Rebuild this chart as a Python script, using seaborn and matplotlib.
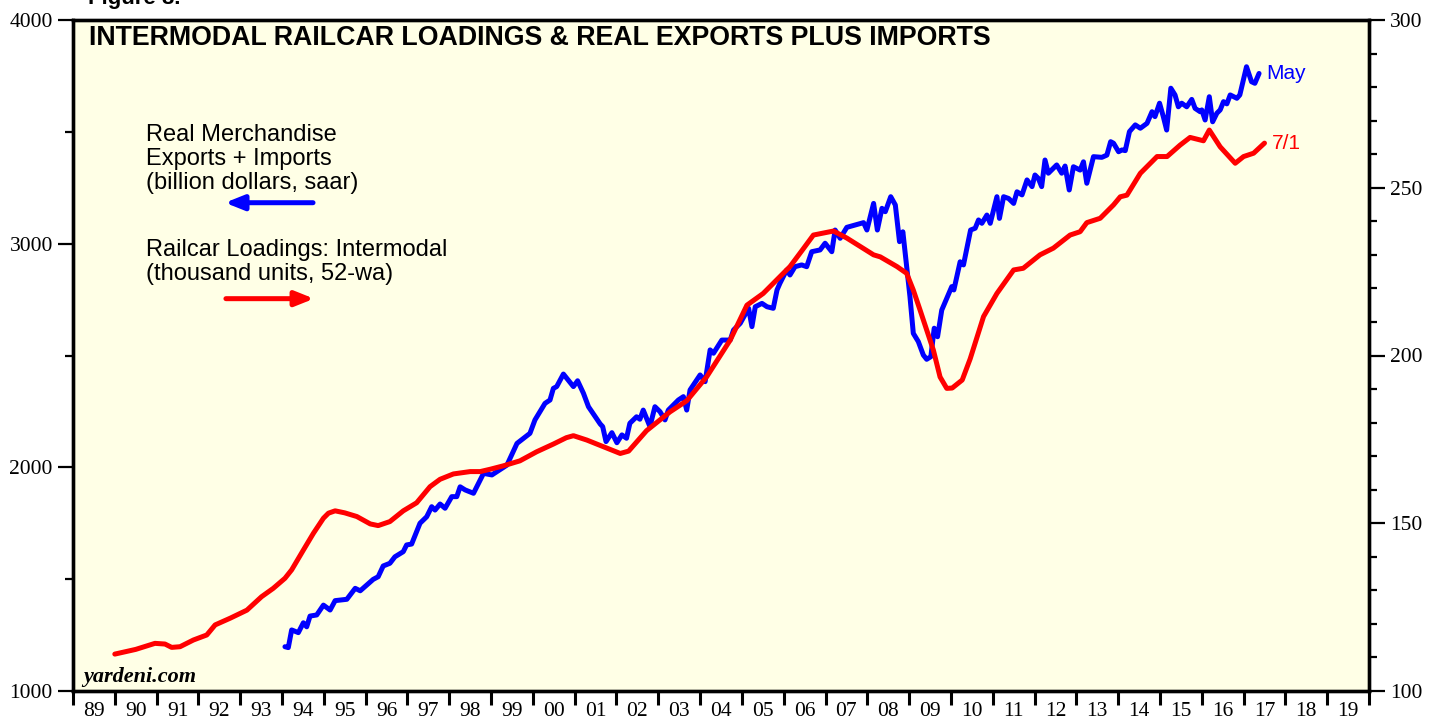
import numpy as np
import pandas as pd
import matplotlib
matplotlib.use('Agg')
import matplotlib.pyplot as plt
from matplotlib.ticker import MultipleLocator, FixedLocator, FixedFormatter
import seaborn as sns

# Real merchandise exports + imports (billion dollars, saar), left axis
blue_year = [1994.07, 1994.15, 1994.23, 1994.39, 1994.51, 1994.59, 1994.67, 1994.83, 1994.99, 1995.15,
             1995.27, 1995.55, 1995.75, 1995.87, 1996.18, 1996.30, 1996.42, 1996.58, 1996.70, 1996.90,
             1996.98, 1997.10, 1997.30, 1997.46, 1997.58, 1997.66, 1997.78, 1997.90, 1998.06, 1998.18,
             1998.26, 1998.38, 1998.58, 1998.82, 1999.02, 1999.38, 1999.62, 1999.93, 2000.05, 2000.29,
             2000.41, 2000.49, 2000.57, 2000.73, 2000.97, 2001.07, 2001.21, 2001.33, 2001.61, 2001.67,
             2001.75, 2001.89, 2002.01, 2002.13, 2002.24, 2002.32, 2002.48, 2002.56, 2002.64, 2002.80,
             2002.92, 2003.04, 2003.16, 2003.24, 2003.48, 2003.60, 2003.68, 2003.76, 2004.00, 2004.12,
             2004.24, 2004.32, 2004.52, 2004.72, 2004.80, 2004.96, 2005.16, 2005.24, 2005.32, 2005.48,
             2005.60, 2005.75, 2005.84, 2005.91, 2006.07, 2006.15, 2006.27, 2006.43, 2006.55, 2006.67,
             2006.87, 2006.99, 2007.15, 2007.23, 2007.35, 2007.51, 2007.91, 2007.99, 2008.15, 2008.24,
             2008.35, 2008.43, 2008.56, 2008.67, 2008.77, 2008.85, 2009.02, 2009.10, 2009.22, 2009.34,
             2009.42, 2009.52, 2009.60, 2009.68, 2009.78, 2009.90, 2010.02, 2010.07, 2010.22, 2010.30,
             2010.47, 2010.58, 2010.66, 2010.74, 2010.86, 2010.94, 2011.10, 2011.16, 2011.26, 2011.38,
             2011.50, 2011.58, 2011.70, 2011.82, 2011.94, 2012.01, 2012.09, 2012.17, 2012.25, 2012.33,
             2012.53, 2012.65, 2012.73, 2012.83, 2012.93, 2013.09, 2013.17, 2013.25, 2013.41, 2013.61,
             2013.73, 2013.82, 2013.89, 2014.01, 2014.09, 2014.17, 2014.27, 2014.41, 2014.53, 2014.69,
             2014.81, 2014.88, 2014.99, 2015.08, 2015.16, 2015.26, 2015.36, 2015.44, 2015.52, 2015.64,
             2015.76, 2015.84, 2015.96, 2016.00, 2016.08, 2016.18, 2016.26, 2016.36, 2016.44, 2016.52,
             2016.60, 2016.68, 2016.84, 2016.91, 2017.07, 2017.19, 2017.27, 2017.37]
blue_value = [1198, 1194, 1273, 1261, 1305, 1287, 1335, 1340, 1384, 1362,
              1404, 1410, 1459, 1448, 1499, 1511, 1559, 1571, 1600, 1623,
              1653, 1657, 1750, 1779, 1824, 1809, 1836, 1817, 1869, 1869,
              1913, 1899, 1884, 1973, 1966, 2010, 2107, 2152, 2212, 2286,
              2301, 2353, 2361, 2417, 2361, 2387, 2331, 2271, 2194, 2182,
              2115, 2155, 2110, 2145, 2130, 2197, 2226, 2215, 2256, 2182,
              2271, 2249, 2212, 2256, 2301, 2316, 2256, 2346, 2413, 2383,
              2525, 2510, 2569, 2569, 2614, 2644, 2711, 2629, 2718, 2733,
              2718, 2711, 2793, 2823, 2882, 2860, 2897, 2905, 2897, 2964,
              2972, 3002, 2964, 3061, 3024, 3073, 3094, 3061, 3180, 3061,
              3158, 3143, 3210, 3173, 3009, 3053, 2763, 2599, 2562, 2502,
              2483, 2495, 2622, 2584, 2703, 2756, 2808, 2793, 2919, 2905,
              3061, 3069, 3106, 3091, 3128, 3091, 3210, 3113, 3210, 3202,
              3180, 3232, 3218, 3285, 3255, 3307, 3292, 3255, 3374, 3315,
              3352, 3315, 3347, 3240, 3344, 3329, 3366, 3270, 3389, 3386,
              3396, 3456, 3449, 3411, 3419, 3416, 3501, 3531, 3516, 3538,
              3590, 3568, 3628, 3568, 3508, 3695, 3665, 3612, 3628, 3612,
              3645, 3605, 3590, 3598, 3553, 3657, 3545, 3583, 3598, 3635,
              3625, 3665, 3650, 3665, 3791, 3724, 3717, 3761]

# Railcar loadings: intermodal (thousand units, 52-wa), right axis
red_year = [1990.00, 1990.50, 1990.96, 1991.20, 1991.36, 1991.56, 1991.88, 1992.20, 1992.40, 1992.76,
            1993.16, 1993.51, 1993.79, 1994.07, 1994.23, 1994.51, 1994.75, 1994.99, 1995.11, 1995.27,
            1995.50, 1995.79, 1996.11, 1996.30, 1996.58, 1996.90, 1997.22, 1997.54, 1997.78, 1998.10,
            1998.50, 1998.74, 1998.98, 1999.29, 1999.69, 2000.09, 2000.49, 2000.80, 2000.97, 2001.29,
            2001.69, 2002.09, 2002.29, 2002.72, 2003.28, 2003.68, 2004.16, 2004.72, 2005.12, 2005.51,
            2005.91, 2006.15, 2006.45, 2006.71, 2007.03, 2007.19, 2007.51, 2008.15, 2008.31, 2008.71,
            2008.94, 2009.10, 2009.26, 2009.58, 2009.74, 2009.90, 2010.03, 2010.27, 2010.46, 2010.78,
            2011.10, 2011.50, 2011.73, 2012.13, 2012.45, 2012.85, 2013.09, 2013.25, 2013.57, 2013.89,
            2014.05, 2014.21, 2014.53, 2014.93, 2015.17, 2015.48, 2015.72, 2016.04, 2016.18, 2016.44,
            2016.80, 2017.00, 2017.24, 2017.50]
red_value = [111.0, 112.4, 114.2, 114.0, 113.0, 113.2, 115.2, 116.7, 119.7, 121.7,
             124.1, 128.1, 130.6, 133.6, 136.1, 142.0, 147.0, 151.5, 153.0, 153.7,
             153.1, 152.0, 149.8, 149.3, 150.5, 153.7, 156.1, 160.9, 163.1, 164.7,
             165.4, 165.4, 166.1, 167.1, 168.6, 171.3, 173.6, 175.5, 176.1, 174.8,
             172.8, 170.8, 171.5, 177.6, 183.2, 186.5, 193.7, 204.6, 215.0, 218.5,
             223.5, 226.5, 231.5, 235.9, 236.7, 237.1, 235.0, 230.0, 229.4, 226.5,
             224.5, 219.5, 213.6, 201.6, 193.6, 190.2, 190.3, 192.7, 199.0, 211.6,
             218.5, 225.5, 226.0, 230.0, 232.0, 235.9, 236.9, 239.6, 240.9, 244.9,
             247.3, 247.8, 254.3, 259.3, 259.3, 262.7, 265.0, 264.0, 267.2, 262.2,
             257.3, 259.3, 260.3, 263.3]

year_labels = [f"{y % 100:02d}" for y in range(1989, 2020)]

sns.set_style('ticks')
plt.rcParams['font.family'] = ['Liberation Sans', 'DejaVu Sans']
plt.rcParams.update({'text.color': 'black', 'xtick.color': 'black',
                     'ytick.color': 'black', 'axes.edgecolor': 'black'})

BLUE = '#0000FF'
RED = '#FF0000'
SERIF = ['Liberation Serif', 'DejaVu Serif']

fig = plt.figure(figsize=(14.39, 7.21), dpi=100)
ax = fig.add_axes([73 / 1439, 30 / 721, 1296 / 1439, 671 / 721])
ax.set_facecolor('#FFFFE6')
ax2 = ax.twinx()

blue = pd.DataFrame({'year': blue_year, 'value': blue_value})
red = pd.DataFrame({'year': red_year, 'value': red_value})

sns.lineplot(data=blue, x='year', y='value', ax=ax, color=BLUE, lw=3.6,
             estimator=None, legend=False)
sns.lineplot(data=red, x='year', y='value', ax=ax2, color=RED, lw=3.6,
             estimator=None, legend=False)

ax.set_xlim(1989, 2020)
ax.set_ylim(1000, 4000)
ax2.set_ylim(100, 300)
for a in (ax, ax2):
    a.set_xlabel('')
    a.set_ylabel('')
    for s in a.spines.values():
        s.set_linewidth(2.4)
        s.set_color('black')

# x axis: ticks at year boundaries, labels centred inside each year
ax.xaxis.set_major_locator(MultipleLocator(1))
ax.xaxis.set_minor_locator(FixedLocator(np.arange(1989.5, 2020, 1)))
ax.xaxis.set_minor_formatter(FixedFormatter(year_labels))
ax.tick_params(axis='x', which='major', length=10, width=2.2, direction='out',
               labelbottom=False)
ax.tick_params(axis='x', which='minor', length=0, pad=8, labelsize=15.5)

ax.yaxis.set_major_locator(MultipleLocator(1000))
ax.yaxis.set_minor_locator(MultipleLocator(500))
ax.tick_params(axis='y', which='major', length=11, width=1.6, pad=3.5, labelsize=15.5)
ax.tick_params(axis='y', which='minor', length=6, width=1.6)

ax2.yaxis.set_major_locator(MultipleLocator(50))
ax2.yaxis.set_minor_locator(MultipleLocator(10))
ax2.tick_params(axis='y', which='major', length=11.5, width=1.6, pad=3.5, labelsize=15.5)
ax2.tick_params(axis='y', which='minor', length=6, width=1.6)

for lab in ax.get_xticklabels(minor=True) + ax.get_yticklabels() + ax2.get_yticklabels():
    lab.set_family(SERIF)

# titles and annotations
fig.text(88 / 1439, 1 - 4 / 721, 'Figure 8.', fontsize=16, fontweight='bold',
         va='baseline', ha='left')
ax.text(0.0123, 0.9732, 'INTERMODAL RAILCAR LOADINGS & REAL EXPORTS PLUS IMPORTS',
        transform=ax.transAxes, fontsize=19.3, fontweight='bold', va='center', ha='left')

legend_lines = [('Real Merchandise', 0.8286), ('Exports + Imports', 0.7928),
                ('(billion dollars, saar)', 0.7571),
                ('Railcar Loadings: Intermodal', 0.6572), ('(thousand units, 52-wa)', 0.6215)]
for txt, yy in legend_lines:
    ax.text(0.0563, yy, txt, transform=ax.transAxes, fontsize=17, va='center', ha='left')

arrow = dict(arrowstyle='-|>,head_length=0.55,head_width=0.22', lw=3.6,
             mutation_scale=20, shrinkA=0, shrinkB=0, capstyle='round')
ax.annotate('', xy=(0.1173, 0.7277), xytext=(0.1852, 0.7277), xycoords='axes fraction',
            arrowprops={**arrow, 'color': BLUE})
ax.annotate('', xy=(0.186, 0.5847), xytext=(0.118, 0.5847), xycoords='axes fraction',
            arrowprops={**arrow, 'color': RED})

ax.annotate('May', xy=(blue_year[-1], blue_value[-1]), xytext=(5, 0),
            textcoords='offset points', color=BLUE, fontsize=15, va='center')
ax2.annotate('7/1', xy=(red_year[-1], red_value[-1]), xytext=(5, 0),
             textcoords='offset points', color=RED, fontsize=15, va='center')

ax.text(0.0077, 0.0139, 'yardeni.com', transform=ax.transAxes, fontsize=16,
        fontweight='bold', style='italic', family=SERIF, va='baseline', ha='left')

fig.savefig('out.png', dpi=100, facecolor='white')
